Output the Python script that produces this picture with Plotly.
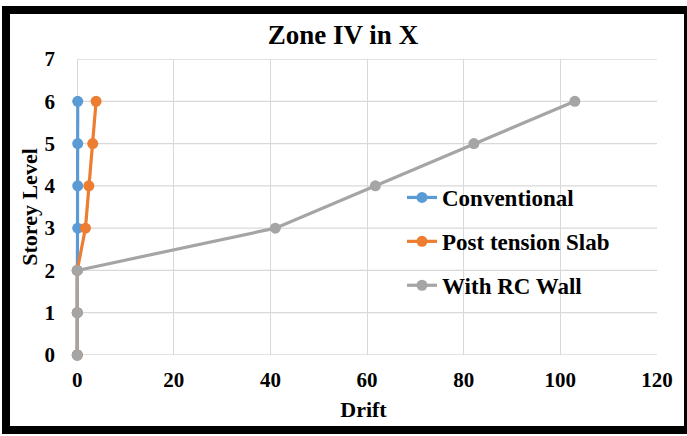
import plotly.graph_objects as go

# Storey levels and lateral drift per structural system
storey = [0, 1, 2, 3, 4, 5, 6]
conventional = [0, 0, 0, 0.1, 0.1, 0.1, 0.1]
post_tension = [0, 0, 0, 1.7, 2.4, 3.2, 3.9]
rc_wall = [0, 0, 0, 41.0, 61.7, 82.1, 103.0]

series = [
    ("Conventional", conventional, "#5B9BD5"),
    ("Post tension Slab", post_tension, "#ED7D31"),
    ("With RC Wall", rc_wall, "#A5A5A5"),
]

x_ticks = [0, 20, 40, 60, 80, 100, 120]
y_ticks = [0, 1, 2, 3, 4, 5, 6, 7]

FONT = "Liberation Serif"
GRID = "#D9D9D9"
W, H = 687, 436
ML, MR, MT, MB = 70, 30, 59, 81
PW, PH = W - ML - MR, H - MT - MB
X_RANGE = [-1.5, 120]


def bold_font(size):
    return dict(family=FONT, size=size, color="black", weight="bold")


fig = go.Figure()
for i, (name, drift, color) in enumerate(series):
    fig.add_trace(go.Scatter(
        x=drift, y=storey, name=name, mode="lines+markers",
        line=dict(color=color, width=3.2),
        marker=dict(color=color, size=11),
        legendgroup=f"g{i}",
        cliponaxis=False,
    ))

# horizontal gridlines spanning the drift range only
for v in y_ticks:
    fig.add_shape(type="line", xref="x", yref="y", x0=x_ticks[0], x1=x_ticks[-1],
                  y0=v, y1=v, line=dict(color=GRID, width=1.3), layer="below")


def px_x(p):
    return (p - ML) / PW


def px_y(p):
    return (H - MB - p) / PH


# thick black frame around the whole chart
fig.add_shape(type="rect", xref="paper", yref="paper",
              x0=px_x(6), x1=px_x(688), y0=px_y(430), y1=px_y(10),
              line=dict(color="black", width=8), fillcolor="rgba(0,0,0,0)",
              layer="above")

fig.update_layout(
    width=W, height=H,
    margin=dict(l=ML, r=MR, t=MT, b=MB),
    paper_bgcolor="white", plot_bgcolor="white",
    font=dict(family=FONT, color="black"),
    title=dict(text="Zone IV in X", x=(343 - ML) / PW, xref="paper",
               xanchor="center", y=1 - 35 / H, yanchor="middle",
               font=bold_font(27)),
    xaxis=dict(range=X_RANGE, tickvals=x_ticks, showgrid=True, gridcolor=GRID,
               gridwidth=1.3, zeroline=False, showline=False,
               tickfont=bold_font(21), ticklabelstandoff=10,
               title=dict(text="Drift", standoff=10, font=bold_font(22))),
    yaxis=dict(range=[0, 7], tickvals=y_ticks, showgrid=False,
               zeroline=False, showline=False,
               tickfont=bold_font(21), ticklabelstandoff=14,
               title=dict(text="Storey Level", standoff=0, font=bold_font(22))),
    legend=dict(x=px_x(402), y=px_y(176), xanchor="left", yanchor="top",
                bgcolor="rgba(255,255,255,0)",
                font=bold_font(23),
                traceorder="grouped", tracegroupgap=11),
    showlegend=True,
)

fig.write_html("out.html")
